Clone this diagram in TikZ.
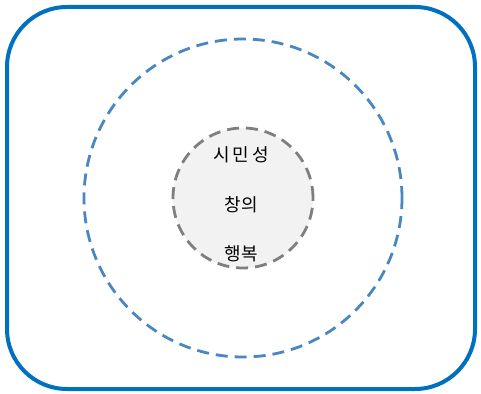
\documentclass[tikz,border=0pt]{standalone}
\usepackage{fontspec}
\newfontfamily\kofont{Noto Sans CJK KR}
\usetikzlibrary{positioning}
\definecolor{framebl}{HTML}{0070C0}
\definecolor{ringbl}{HTML}{4A86C0}
\definecolor{coregray}{HTML}{7F7F7F}
\definecolor{corefill}{HTML}{F2F2F2}

\begin{document}
\begin{tikzpicture}[
  x=1pt, y=-1pt,
  frame/.style={draw=framebl, line width=4pt, rounded corners=60pt},
  ring/.style={circle, draw=ringbl, line width=2.8pt, dash pattern=on 12pt off 7pt, minimum size=318pt, inner sep=0pt},
  core/.style={circle, draw=coregray, fill=corefill, line width=2.8pt, dash pattern=on 12pt off 7pt, minimum size=140pt, inner sep=0pt},
  word/.style={font=\kofont\fontsize{18}{21}\selectfont, inner sep=1pt}
]
\useasboundingbox (0,0) rectangle (481,393);

\draw[frame] (7,7) rectangle (475,389);

\node[ring] (outer) at (243,198) {};
\node[core] (inner) at (243,198) {};

\node[word] (citizen) at (241,155) {시\,민\,성};
\node[word] (creative) at (241,205) {창의};
\node[word] (happy) at (241,254) {행복};

\end{tikzpicture}
\end{document}
